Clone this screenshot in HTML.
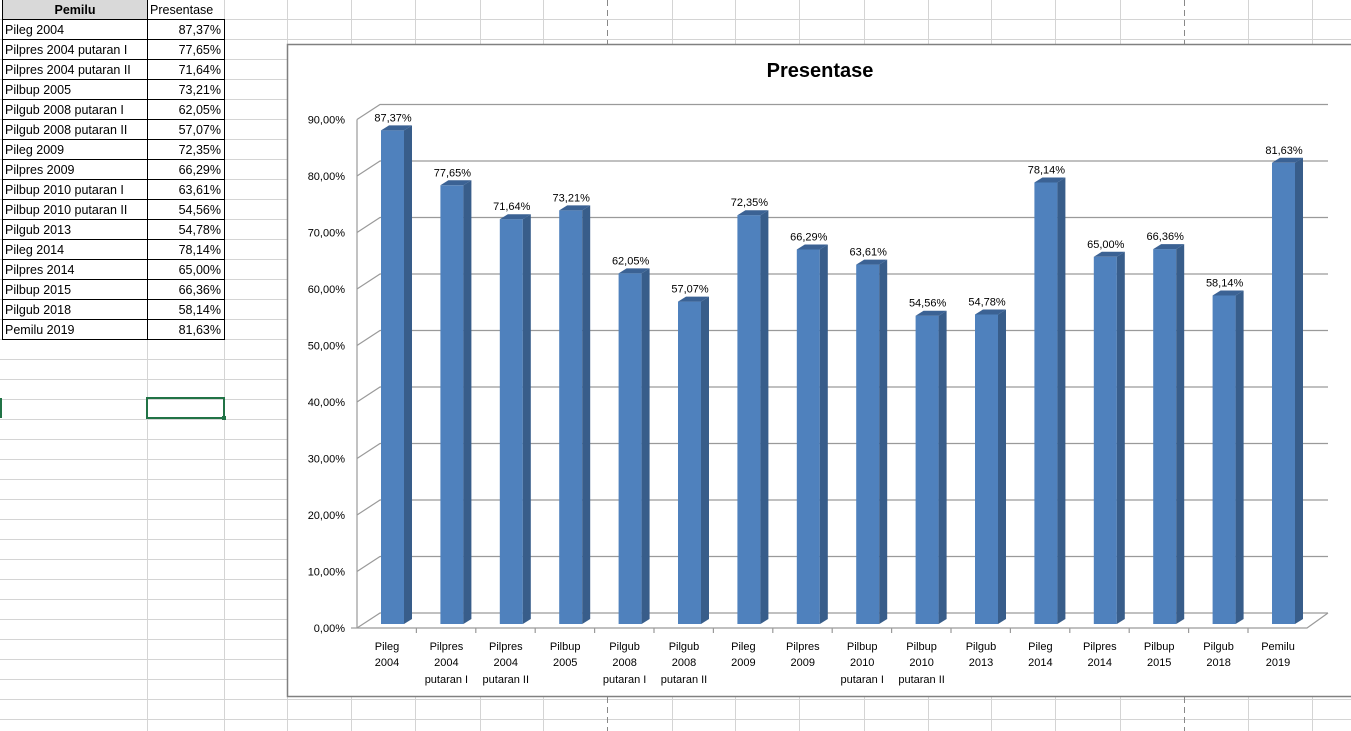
<!DOCTYPE html>
<html><head><meta charset="utf-8"><style>
html,body{margin:0;padding:0;background:#fff;}
svg{display:block;font-family:"Liberation Sans",sans-serif;}
</style></head><body>
<svg width="1351" height="731" viewBox="0 0 1351 731" xmlns="http://www.w3.org/2000/svg">
<!-- spreadsheet grid -->
<g stroke="#d4d4d4" stroke-width="1">
<line x1="0" y1="19.5" x2="1351" y2="19.5"/><line x1="0" y1="39.5" x2="1351" y2="39.5"/>
<line x1="0" y1="59.5" x2="287" y2="59.5"/><line x1="0" y1="79.5" x2="287" y2="79.5"/><line x1="0" y1="99.5" x2="287" y2="99.5"/><line x1="0" y1="119.5" x2="287" y2="119.5"/><line x1="0" y1="139.5" x2="287" y2="139.5"/><line x1="0" y1="159.5" x2="287" y2="159.5"/><line x1="0" y1="179.5" x2="287" y2="179.5"/><line x1="0" y1="199.5" x2="287" y2="199.5"/><line x1="0" y1="219.5" x2="287" y2="219.5"/><line x1="0" y1="239.5" x2="287" y2="239.5"/><line x1="0" y1="259.5" x2="287" y2="259.5"/><line x1="0" y1="279.5" x2="287" y2="279.5"/><line x1="0" y1="299.5" x2="287" y2="299.5"/><line x1="0" y1="319.5" x2="287" y2="319.5"/><line x1="0" y1="339.5" x2="287" y2="339.5"/><line x1="0" y1="359.5" x2="287" y2="359.5"/><line x1="0" y1="379.5" x2="287" y2="379.5"/><line x1="0" y1="399.5" x2="287" y2="399.5"/><line x1="0" y1="419.5" x2="287" y2="419.5"/><line x1="0" y1="439.5" x2="287" y2="439.5"/><line x1="0" y1="459.5" x2="287" y2="459.5"/><line x1="0" y1="479.5" x2="287" y2="479.5"/><line x1="0" y1="499.5" x2="287" y2="499.5"/><line x1="0" y1="519.5" x2="287" y2="519.5"/><line x1="0" y1="539.5" x2="287" y2="539.5"/><line x1="0" y1="559.5" x2="287" y2="559.5"/><line x1="0" y1="579.5" x2="287" y2="579.5"/><line x1="0" y1="599.5" x2="287" y2="599.5"/><line x1="0" y1="619.5" x2="287" y2="619.5"/><line x1="0" y1="639.5" x2="287" y2="639.5"/><line x1="0" y1="659.5" x2="287" y2="659.5"/><line x1="0" y1="679.5" x2="287" y2="679.5"/><line x1="0" y1="699.5" x2="1351" y2="699.5"/><line x1="0" y1="719.5" x2="1351" y2="719.5"/>
<line x1="147.5" y1="0" x2="147.5" y2="731"/><line x1="224.5" y1="0" x2="224.5" y2="731"/><line x1="287.5" y1="0" x2="287.5" y2="731"/>
<line x1="351.5" y1="0" x2="351.5" y2="44"/><line x1="415.5" y1="0" x2="415.5" y2="44"/><line x1="480.5" y1="0" x2="480.5" y2="44"/><line x1="543.5" y1="0" x2="543.5" y2="44"/><line x1="672.5" y1="0" x2="672.5" y2="44"/><line x1="735.5" y1="0" x2="735.5" y2="44"/><line x1="799.5" y1="0" x2="799.5" y2="44"/><line x1="864.5" y1="0" x2="864.5" y2="44"/><line x1="928.5" y1="0" x2="928.5" y2="44"/><line x1="991.5" y1="0" x2="991.5" y2="44"/><line x1="1055.5" y1="0" x2="1055.5" y2="44"/><line x1="1120.5" y1="0" x2="1120.5" y2="44"/><line x1="1248.5" y1="0" x2="1248.5" y2="44"/><line x1="1312.5" y1="0" x2="1312.5" y2="44"/>
<line x1="351.5" y1="697" x2="351.5" y2="731"/><line x1="415.5" y1="697" x2="415.5" y2="731"/><line x1="480.5" y1="697" x2="480.5" y2="731"/><line x1="543.5" y1="697" x2="543.5" y2="731"/><line x1="672.5" y1="697" x2="672.5" y2="731"/><line x1="735.5" y1="697" x2="735.5" y2="731"/><line x1="799.5" y1="697" x2="799.5" y2="731"/><line x1="864.5" y1="697" x2="864.5" y2="731"/><line x1="928.5" y1="697" x2="928.5" y2="731"/><line x1="991.5" y1="697" x2="991.5" y2="731"/><line x1="1055.5" y1="697" x2="1055.5" y2="731"/><line x1="1120.5" y1="697" x2="1120.5" y2="731"/><line x1="1248.5" y1="697" x2="1248.5" y2="731"/><line x1="1312.5" y1="697" x2="1312.5" y2="731"/>
</g>
<g stroke="#888" stroke-dasharray="6,4"><line x1="607.5" y1="0" x2="607.5" y2="44"/><line x1="1184.5" y1="0" x2="1184.5" y2="44"/><line x1="607.5" y1="697" x2="607.5" y2="731"/><line x1="1184.5" y1="697" x2="1184.5" y2="731"/></g>
<!-- table -->
<rect x="2.5" y="0" width="145" height="19.5" fill="#d9d9d9"/>
<g stroke="#000" stroke-width="1" fill="none">
<rect x="2.5" y="-1" width="145" height="340.5"/>
<line x1="2.5" y1="19.5" x2="224.5" y2="19.5"/><line x1="147.5" y1="19.5" x2="224.5" y2="19.5"/>
<rect x="147.5" y="19.5" width="77" height="320"/>
<line x1="2.5" y1="39.5" x2="224.5" y2="39.5"/><line x1="2.5" y1="59.5" x2="224.5" y2="59.5"/><line x1="2.5" y1="79.5" x2="224.5" y2="79.5"/><line x1="2.5" y1="99.5" x2="224.5" y2="99.5"/><line x1="2.5" y1="119.5" x2="224.5" y2="119.5"/><line x1="2.5" y1="139.5" x2="224.5" y2="139.5"/><line x1="2.5" y1="159.5" x2="224.5" y2="159.5"/><line x1="2.5" y1="179.5" x2="224.5" y2="179.5"/><line x1="2.5" y1="199.5" x2="224.5" y2="199.5"/><line x1="2.5" y1="219.5" x2="224.5" y2="219.5"/><line x1="2.5" y1="239.5" x2="224.5" y2="239.5"/><line x1="2.5" y1="259.5" x2="224.5" y2="259.5"/><line x1="2.5" y1="279.5" x2="224.5" y2="279.5"/><line x1="2.5" y1="299.5" x2="224.5" y2="299.5"/><line x1="2.5" y1="319.5" x2="224.5" y2="319.5"/>
</g>
<g font-size="12.5" fill="#000">
<text x="75" y="14" text-anchor="middle" font-weight="bold">Pemilu</text>
<text x="150" y="14">Presentase</text>
<g>
<text x="5" y="34">Pileg 2004</text><text x="5" y="54">Pilpres 2004 putaran I</text><text x="5" y="74">Pilpres 2004 putaran II</text><text x="5" y="94">Pilbup 2005</text><text x="5" y="114">Pilgub 2008 putaran I</text><text x="5" y="134">Pilgub 2008 putaran II</text><text x="5" y="154">Pileg 2009</text><text x="5" y="174">Pilpres 2009</text><text x="5" y="194">Pilbup 2010 putaran I</text><text x="5" y="214">Pilbup 2010 putaran II</text><text x="5" y="234">Pilgub 2013</text><text x="5" y="254">Pileg 2014</text><text x="5" y="274">Pilpres 2014</text><text x="5" y="294">Pilbup 2015</text><text x="5" y="314">Pilgub 2018</text><text x="5" y="334">Pemilu 2019</text>
</g>
<g text-anchor="end">
<text x="221" y="34">87,37%</text><text x="221" y="54">77,65%</text><text x="221" y="74">71,64%</text><text x="221" y="94">73,21%</text><text x="221" y="114">62,05%</text><text x="221" y="134">57,07%</text><text x="221" y="154">72,35%</text><text x="221" y="174">66,29%</text><text x="221" y="194">63,61%</text><text x="221" y="214">54,56%</text><text x="221" y="234">54,78%</text><text x="221" y="254">78,14%</text><text x="221" y="274">65,00%</text><text x="221" y="294">66,36%</text><text x="221" y="314">58,14%</text><text x="221" y="334">81,63%</text>
</g>
</g>
<rect x="147" y="398" width="77" height="20" fill="none" stroke="#217346" stroke-width="2"/>
<rect x="222" y="416" width="4" height="4" fill="#217346"/>
<rect x="0" y="398" width="2" height="20" fill="#217346"/>
<!-- chart -->
<rect x="287.5" y="44.5" width="1070" height="652" fill="#fff" stroke="#808080" stroke-width="1.5"/>
<text x="820" y="77" text-anchor="middle" font-size="20" font-weight="bold">Presentase</text>
<g stroke="#9a9a9a" stroke-width="1.2" fill="none">
<polyline points="357,628 380,613 1328,613"/>
<polyline points="357,571.5 380,556.5 1328,556.5"/>
<polyline points="357,515 380,500 1328,500"/>
<polyline points="357,458.5 380,443.5 1328,443.5"/>
<polyline points="357,402 380,387 1328,387"/>
<polyline points="357,345.5 380,330.5 1328,330.5"/>
<polyline points="357,289 380,274 1328,274"/>
<polyline points="357,232.5 380,217.5 1328,217.5"/>
<polyline points="357,176 380,161 1328,161"/>
<polyline points="357,119.5 380,104.5 1328,104.5"/>
<line x1="357" y1="119.5" x2="357" y2="628"/>
<polyline points="357,628 1307,628 1328,613"/>
<line x1="351" y1="628" x2="357" y2="628"/>
<line x1="416.4" y1="628" x2="416.4" y2="633"/><line x1="475.8" y1="628" x2="475.8" y2="633"/><line x1="535.2" y1="628" x2="535.2" y2="633"/><line x1="594.6" y1="628" x2="594.6" y2="633"/><line x1="654" y1="628" x2="654" y2="633"/><line x1="713.4" y1="628" x2="713.4" y2="633"/><line x1="772.8" y1="628" x2="772.8" y2="633"/><line x1="832.2" y1="628" x2="832.2" y2="633"/><line x1="891.6" y1="628" x2="891.6" y2="633"/><line x1="951" y1="628" x2="951" y2="633"/><line x1="1010.4" y1="628" x2="1010.4" y2="633"/><line x1="1069.8" y1="628" x2="1069.8" y2="633"/><line x1="1129.2" y1="628" x2="1129.2" y2="633"/><line x1="1188.6" y1="628" x2="1188.6" y2="633"/><line x1="1248" y1="628" x2="1248" y2="633"/>
</g>
<g font-size="11" text-anchor="end" fill="#000">
<text x="345" y="632">0,00%</text><text x="345" y="575.5">10,00%</text><text x="345" y="519">20,00%</text><text x="345" y="462.5">30,00%</text><text x="345" y="406">40,00%</text><text x="345" y="349.5">50,00%</text><text x="345" y="293">60,00%</text><text x="345" y="236.5">70,00%</text><text x="345" y="180">80,00%</text><text x="345" y="123.5">90,00%</text>
</g>
<!-- bars -->
<g>
<g transform="translate(381,130.4)"><rect width="23" height="493.6" fill="#4F81BD"/><polygon points="23,0 31,-5 31,488.6 23,493.6" fill="#385D8A"/><polygon points="0,0 8,-5 31,-5 23,0" fill="#3B6294"/><text x="12" y="-9" font-size="11" text-anchor="middle">87,37%</text></g>
<g transform="translate(440.4,185.3)"><rect width="23" height="438.7" fill="#4F81BD"/><polygon points="23,0 31,-5 31,433.7 23,438.7" fill="#385D8A"/><polygon points="0,0 8,-5 31,-5 23,0" fill="#3B6294"/><text x="12" y="-9" font-size="11" text-anchor="middle">77,65%</text></g>
<g transform="translate(499.8,219.2)"><rect width="23" height="404.8" fill="#4F81BD"/><polygon points="23,0 31,-5 31,399.8 23,404.8" fill="#385D8A"/><polygon points="0,0 8,-5 31,-5 23,0" fill="#3B6294"/><text x="12" y="-9" font-size="11" text-anchor="middle">71,64%</text></g>
<g transform="translate(559.2,210.4)"><rect width="23" height="413.6" fill="#4F81BD"/><polygon points="23,0 31,-5 31,408.6 23,413.6" fill="#385D8A"/><polygon points="0,0 8,-5 31,-5 23,0" fill="#3B6294"/><text x="12" y="-9" font-size="11" text-anchor="middle">73,21%</text></g>
<g transform="translate(618.6,273.4)"><rect width="23" height="350.6" fill="#4F81BD"/><polygon points="23,0 31,-5 31,345.6 23,350.6" fill="#385D8A"/><polygon points="0,0 8,-5 31,-5 23,0" fill="#3B6294"/><text x="12" y="-9" font-size="11" text-anchor="middle">62,05%</text></g>
<g transform="translate(678,301.6)"><rect width="23" height="322.4" fill="#4F81BD"/><polygon points="23,0 31,-5 31,317.4 23,322.4" fill="#385D8A"/><polygon points="0,0 8,-5 31,-5 23,0" fill="#3B6294"/><text x="12" y="-9" font-size="11" text-anchor="middle">57,07%</text></g>
<g transform="translate(737.4,215.2)"><rect width="23" height="408.8" fill="#4F81BD"/><polygon points="23,0 31,-5 31,403.8 23,408.8" fill="#385D8A"/><polygon points="0,0 8,-5 31,-5 23,0" fill="#3B6294"/><text x="12" y="-9" font-size="11" text-anchor="middle">72,35%</text></g>
<g transform="translate(796.8,249.5)"><rect width="23" height="374.5" fill="#4F81BD"/><polygon points="23,0 31,-5 31,369.5 23,374.5" fill="#385D8A"/><polygon points="0,0 8,-5 31,-5 23,0" fill="#3B6294"/><text x="12" y="-9" font-size="11" text-anchor="middle">66,29%</text></g>
<g transform="translate(856.2,264.6)"><rect width="23" height="359.4" fill="#4F81BD"/><polygon points="23,0 31,-5 31,354.4 23,359.4" fill="#385D8A"/><polygon points="0,0 8,-5 31,-5 23,0" fill="#3B6294"/><text x="12" y="-9" font-size="11" text-anchor="middle">63,61%</text></g>
<g transform="translate(915.6,315.7)"><rect width="23" height="308.3" fill="#4F81BD"/><polygon points="23,0 31,-5 31,303.3 23,308.3" fill="#385D8A"/><polygon points="0,0 8,-5 31,-5 23,0" fill="#3B6294"/><text x="12" y="-9" font-size="11" text-anchor="middle">54,56%</text></g>
<g transform="translate(975,314.5)"><rect width="23" height="309.5" fill="#4F81BD"/><polygon points="23,0 31,-5 31,304.5 23,309.5" fill="#385D8A"/><polygon points="0,0 8,-5 31,-5 23,0" fill="#3B6294"/><text x="12" y="-9" font-size="11" text-anchor="middle">54,78%</text></g>
<g transform="translate(1034.4,182.5)"><rect width="23" height="441.5" fill="#4F81BD"/><polygon points="23,0 31,-5 31,436.5 23,441.5" fill="#385D8A"/><polygon points="0,0 8,-5 31,-5 23,0" fill="#3B6294"/><text x="12" y="-9" font-size="11" text-anchor="middle">78,14%</text></g>
<g transform="translate(1093.8,256.8)"><rect width="23" height="367.2" fill="#4F81BD"/><polygon points="23,0 31,-5 31,362.2 23,367.2" fill="#385D8A"/><polygon points="0,0 8,-5 31,-5 23,0" fill="#3B6294"/><text x="12" y="-9" font-size="11" text-anchor="middle">65,00%</text></g>
<g transform="translate(1153.2,249.1)"><rect width="23" height="374.9" fill="#4F81BD"/><polygon points="23,0 31,-5 31,369.9 23,374.9" fill="#385D8A"/><polygon points="0,0 8,-5 31,-5 23,0" fill="#3B6294"/><text x="12" y="-9" font-size="11" text-anchor="middle">66,36%</text></g>
<g transform="translate(1212.6,295.5)"><rect width="23" height="328.5" fill="#4F81BD"/><polygon points="23,0 31,-5 31,323.5 23,328.5" fill="#385D8A"/><polygon points="0,0 8,-5 31,-5 23,0" fill="#3B6294"/><text x="12" y="-9" font-size="11" text-anchor="middle">58,14%</text></g>
<g transform="translate(1272,162.8)"><rect width="23" height="461.2" fill="#4F81BD"/><polygon points="23,0 31,-5 31,456.2 23,461.2" fill="#385D8A"/><polygon points="0,0 8,-5 31,-5 23,0" fill="#3B6294"/><text x="12" y="-9" font-size="11" text-anchor="middle">81,63%</text></g>
</g>
<!-- category labels -->
<g font-size="11" text-anchor="middle" fill="#000">
<text x="387" y="650">Pileg</text><text x="387" y="666">2004</text>
<text x="446.4" y="650">Pilpres</text><text x="446.4" y="666">2004</text><text x="446.4" y="683">putaran I</text>
<text x="505.8" y="650">Pilpres</text><text x="505.8" y="666">2004</text><text x="505.8" y="683">putaran II</text>
<text x="565.2" y="650">Pilbup</text><text x="565.2" y="666">2005</text>
<text x="624.6" y="650">Pilgub</text><text x="624.6" y="666">2008</text><text x="624.6" y="683">putaran I</text>
<text x="684" y="650">Pilgub</text><text x="684" y="666">2008</text><text x="684" y="683">putaran II</text>
<text x="743.4" y="650">Pileg</text><text x="743.4" y="666">2009</text>
<text x="802.8" y="650">Pilpres</text><text x="802.8" y="666">2009</text>
<text x="862.2" y="650">Pilbup</text><text x="862.2" y="666">2010</text><text x="862.2" y="683">putaran I</text>
<text x="921.6" y="650">Pilbup</text><text x="921.6" y="666">2010</text><text x="921.6" y="683">putaran II</text>
<text x="981" y="650">Pilgub</text><text x="981" y="666">2013</text>
<text x="1040.4" y="650">Pileg</text><text x="1040.4" y="666">2014</text>
<text x="1099.8" y="650">Pilpres</text><text x="1099.8" y="666">2014</text>
<text x="1159.2" y="650">Pilbup</text><text x="1159.2" y="666">2015</text>
<text x="1218.6" y="650">Pilgub</text><text x="1218.6" y="666">2018</text>
<text x="1278" y="650">Pemilu</text><text x="1278" y="666">2019</text>
</g>
</svg>
</body></html>
